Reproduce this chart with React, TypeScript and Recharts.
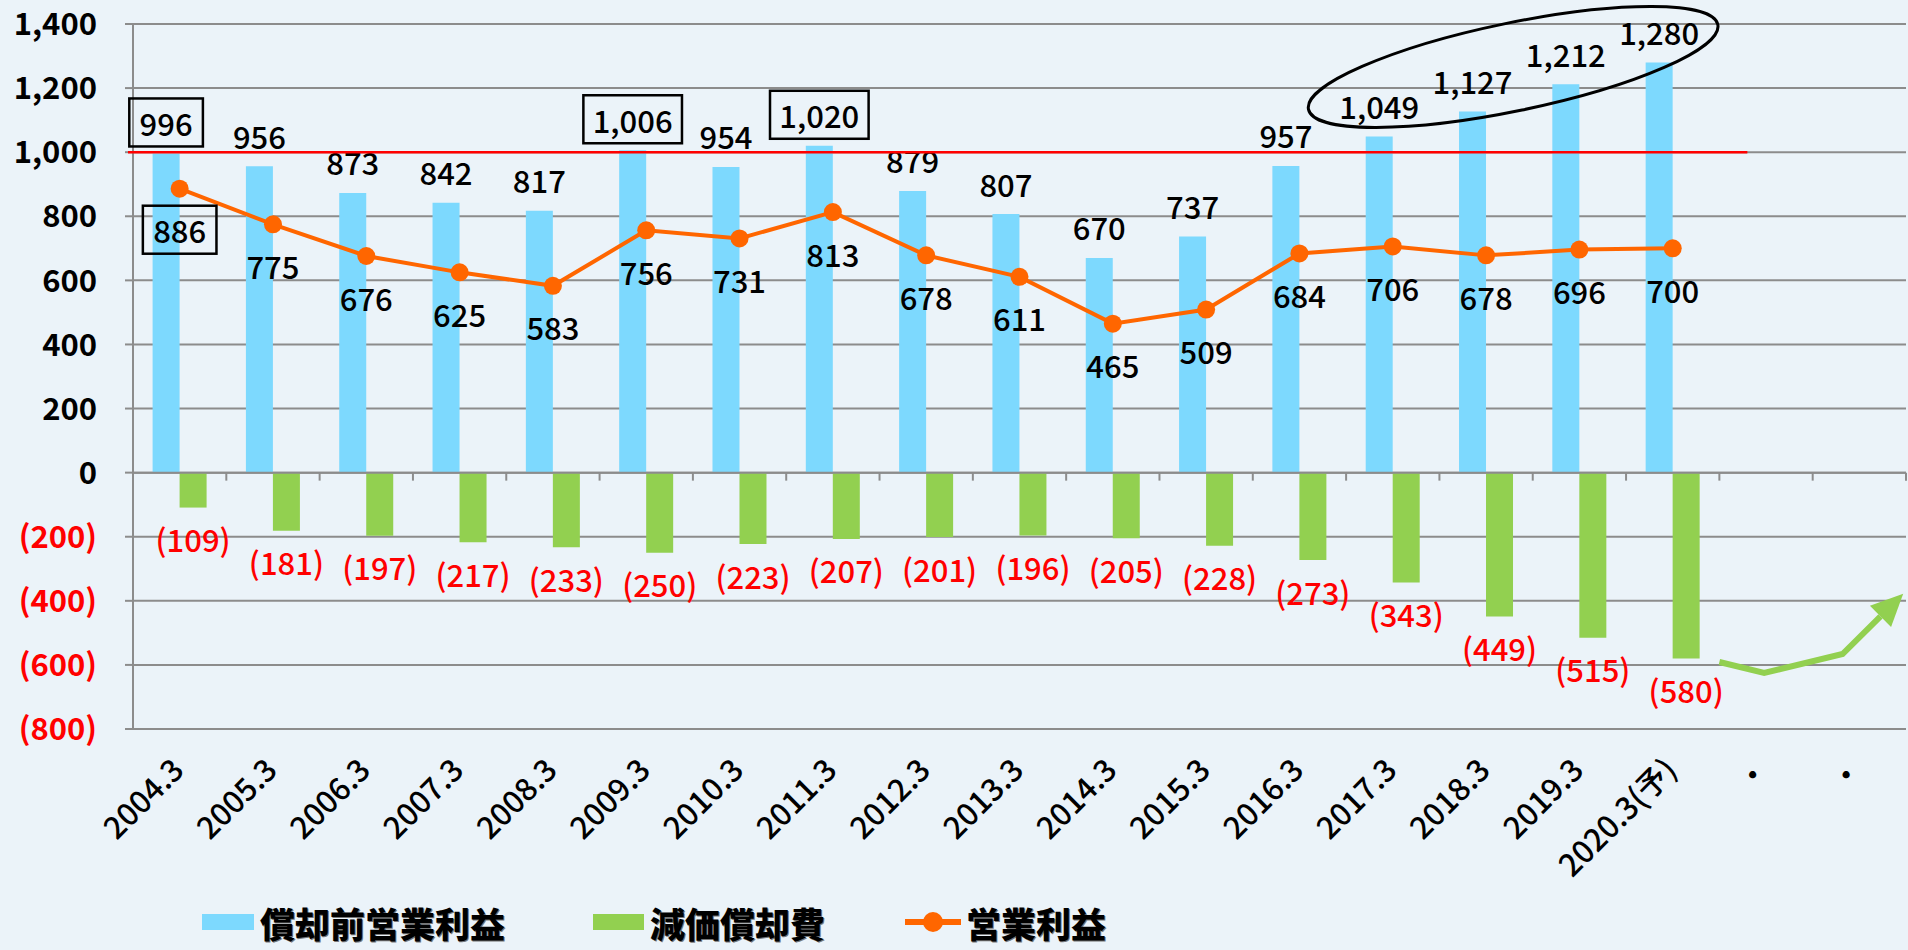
import React from "react";
import {
  ComposedChart,
  Bar,
  Line,
  XAxis,
  YAxis,
  CartesianGrid,
  LabelList,
  Legend,
  ReferenceArea,
} from "recharts";

const categories = [
  "2004.3", "2005.3", "2006.3", "2007.3", "2008.3", "2009.3", "2010.3",
  "2011.3", "2012.3", "2013.3", "2014.3", "2015.3", "2016.3", "2017.3",
  "2018.3", "2019.3", "2020.3(予)", "・", "・",
];
// 償却前営業利益
const ebitda = [996, 956, 873, 842, 817, 1006, 954, 1020, 879, 807, 670, 737, 957, 1049, 1127, 1212, 1280, null, null];
// 減価償却費
const depreciation = [-109, -181, -197, -217, -233, -250, -223, -207, -201, -196, -205, -228, -273, -343, -449, -515, -580, null, null];
// 営業利益
const operatingProfit = [886, 775, 676, 625, 583, 756, 731, 813, 678, 611, 465, 509, 684, 706, 678, 696, 700, null, null];

const yTicks = [-800, -600, -400, -200, 0, 200, 400, 600, 800, 1000, 1200, 1400];
const yMin = -800;
const yMax = 1400;
const targetLine = 1000;

// labels drawn inside a box
const boxedEbitda = ["2004.3", "2009.3", "2011.3"];
const boxedProfit = ["2004.3"];

// annotations, in (category units, value)
const ellipseCenter = [14.79, 1266];
const trendArrow = [
  [17.0, -591],
  [17.48, -625],
  [18.32, -566],
  [18.97, -378],
];

const data = categories.map((name, i) => ({
  name,
  ebitda: ebitda[i],
  dep: depreciation[i],
  op: operatingProfit[i],
}));

const FONT = '"Noto Sans CJK JP", "Noto Sans", sans-serif';
const BLUE = "#7DD9FE";
const GREEN = "#92D050";
const ORANGE = "#FF6600";
const RED = "#FF0000";
const GRID = "#8C8C8C";
const BG = "#EBF3F9";
const LABEL_SIZE = 31;

const fmt = (v: number) => v.toLocaleString("en-US");

const textWidth = (s: string) =>
  s.split("").reduce((w, c) => w + (c === "," ? 7.8 : 17.2), 0);

const box = (cx: number, cy: number, s: string) => (
  <rect
    x={cx - (textWidth(s) + 22) / 2}
    y={cy - 24}
    width={textWidth(s) + 22}
    height={48}
    fill="none"
    stroke="#000"
    strokeWidth={2.5}
  />
);

const geom = (props: any) => {
  const vb = props.viewBox || {};
  const x = vb.x ?? props.x;
  const y = vb.y ?? props.y;
  const w = vb.width ?? props.width ?? 0;
  const h = vb.height ?? props.height ?? 0;
  return { x, y, w, h };
};

const EbitdaLabel = (props: any) => {
  const { value, index } = props;
  if (value == null) return null;
  const { x, y, w, h } = geom(props);
  const cx = x + w / 2;
  const cy = Math.min(y, y + h) - 31;
  const s = fmt(value);
  return (
    <g>
      {boxedEbitda.includes(categories[index]) && box(cx, cy, s)}
      <text x={cx} y={cy} textAnchor="middle" dominantBaseline="central" fontSize={LABEL_SIZE} fontFamily={FONT} fontWeight={500} fill="#000">
        {s}
      </text>
    </g>
  );
};

const DepLabel = (props: any) => {
  const { value } = props;
  if (value == null) return null;
  const { x, y, w, h } = geom(props);
  const cx = x + w / 2;
  const cy = Math.max(y, y + h) + 31;
  return (
    <text x={cx} y={cy} textAnchor="middle" dominantBaseline="central" fontSize={LABEL_SIZE} fontFamily={FONT} fontWeight={500} fill={RED}>
      {`(${Math.abs(value)})`}
    </text>
  );
};

const ProfitLabel = (props: any) => {
  const { value, index } = props;
  if (value == null) return null;
  const { x, y } = geom(props);
  const cy = y + 41;
  const s = fmt(value);
  return (
    <g>
      {boxedProfit.includes(categories[index]) && box(x, cy, s)}
      <text x={x} y={cy} textAnchor="middle" dominantBaseline="central" fontSize={LABEL_SIZE} fontFamily={FONT} fontWeight={500} fill="#000">
        {s}
      </text>
    </g>
  );
};

const YTick = (props: any) => {
  const { x, y, payload } = props;
  const v = payload.value as number;
  const neg = v < 0;
  return (
    <text x={x} y={y} dy="0.36em" textAnchor="end" fontSize={31} fontFamily={FONT} fontWeight={700} fill={neg ? RED : "#000"}>
      {neg ? `(${Math.abs(v)})` : fmt(v)}
    </text>
  );
};

const XTick = (props: any) => {
  const { x, y, payload } = props;
  return (
    <g transform={`translate(${x},${y})`}>
      <text x={6} y={43} textAnchor="end" transform="rotate(-45 6 43)" fontSize={31} fontFamily={FONT} fontWeight={500} fill="#000">
        {payload.value}
      </text>
    </g>
  );
};

// draws zero axis, 1,000 line, ellipse and trend arrow over the whole plot area
const Annotations = (props: any) => {
  const { x, y, width, height } = props;
  const catW = width / categories.length;
  const px = (c: number) => x + c * catW;
  const py = (v: number) => y + ((yMax - v) / (yMax - yMin)) * height;
  const zy = py(0);

  const pts = trendArrow.map(([c, v]) => [px(c), py(v)]);
  const tip = pts[pts.length - 1];
  const prev = pts[pts.length - 2];
  const len = Math.hypot(tip[0] - prev[0], tip[1] - prev[1]);
  const dx = (tip[0] - prev[0]) / len;
  const dy = (tip[1] - prev[1]) / len;
  const base = [tip[0] - dx * 32, tip[1] - dy * 32];
  const nx = -dy;
  const ny = dx;
  const line = [...pts.slice(0, -1), base].map((p) => p.join(",")).join(" ");
  const head = [
    tip,
    [base[0] + nx * 15, base[1] + ny * 15],
    [base[0] - nx * 15, base[1] - ny * 15],
  ]
    .map((p) => p.join(","))
    .join(" ");

  const ecx = px(ellipseCenter[0]);
  const ecy = py(ellipseCenter[1]);

  return (
    <g>
      <line x1={x} y1={zy} x2={x + width} y2={zy} stroke={GRID} strokeWidth={2} />
      {categories.map((_, i) => (
        <line key={i} x1={px(i + 1)} y1={zy} x2={px(i + 1)} y2={zy + 8} stroke={GRID} strokeWidth={2} />
      ))}
      <line x1={x - 5} y1={py(targetLine)} x2={px(17.3)} y2={py(targetLine)} stroke={RED} strokeWidth={2.5} />
      <ellipse
        cx={ecx}
        cy={ecy}
        rx={209}
        ry={44}
        transform={`rotate(-11.7 ${ecx} ${ecy})`}
        fill="none"
        stroke="#000"
        strokeWidth={3}
      />
      <polyline points={line} fill="none" stroke={GREEN} strokeWidth={6} strokeLinejoin="miter" />
      <polygon points={head} fill={GREEN} />
    </g>
  );
};

const LegendContent = () => {
  const label: React.CSSProperties = {
    fontFamily: FONT,
    fontSize: 35,
    fontWeight: 900,
    color: "#000",
    textShadow: "1px 1px 0 #777",
    lineHeight: "35px",
    whiteSpace: "nowrap",
  };
  return (
    <div
      style={{
        display: "flex",
        alignItems: "center",
        height: 50,
        paddingBottom: 6,
        paddingLeft: 202,
        boxSizing: "border-box",
      }}
    >
      <span style={{ width: 52, height: 16, background: BLUE, marginRight: 6 }} />
      <span style={{ ...label, marginRight: 88 }}>償却前営業利益</span>
      <span style={{ width: 51, height: 16, background: GREEN, marginRight: 6 }} />
      <span style={{ ...label, marginRight: 80 }}>減価償却費</span>
      <svg width={56} height={24} style={{ marginRight: 5 }}>
        <line x1={0} y1={12} x2={56} y2={12} stroke={ORANGE} strokeWidth={6} />
        <circle cx={28} cy={12} r={10} fill={ORANGE} />
      </svg>
      <span style={label}>営業利益</span>
    </div>
  );
};

export default function App() {
  return (
    <div style={{ position: "fixed", left: 0, top: 0, width: 1908, height: 950, background: BG }}>
      <ComposedChart
        width={1908}
        height={950}
        data={data}
        margin={{ top: 24, right: 2, left: 0, bottom: 0 }}
        barCategoryGap="21%"
        barGap={0}
      >
        <CartesianGrid horizontal vertical={false} stroke={GRID} strokeWidth={2} />
        <XAxis
          dataKey="name"
          height={171}
          interval={0}
          axisLine={false}
          tickLine={false}
          tickSize={0}
          tickMargin={0}
          tick={<XTick />}
        />
        <YAxis
          width={133}
          domain={[yMin, yMax]}
          ticks={yTicks}
          interval={0}
          axisLine={{ stroke: GRID, strokeWidth: 2 }}
          tickLine={{ stroke: GRID, strokeWidth: 2 }}
          tickSize={8}
          tickMargin={28}
          tick={<YTick />}
        />
        <Legend
          verticalAlign="bottom"
          align="left"
          wrapperStyle={{ left: 0, width: 1908, height: 50 }}
          content={<LegendContent />}
        />
        <Bar dataKey="ebitda" name="償却前営業利益" fill={BLUE} isAnimationActive={false}>
          <LabelList dataKey="ebitda" content={<EbitdaLabel />} />
        </Bar>
        <Bar dataKey="dep" name="減価償却費" fill={GREEN} isAnimationActive={false}>
          <LabelList dataKey="dep" content={<DepLabel />} />
        </Bar>
        <Line
          dataKey="op"
          name="営業利益"
          stroke={ORANGE}
          strokeWidth={4}
          dot={{ r: 9, fill: ORANGE, stroke: "none" }}
          activeDot={false}
          isAnimationActive={false}
        >
          <LabelList dataKey="op" content={<ProfitLabel />} />
        </Line>
        <ReferenceArea
          y1={yMin}
          y2={yMax}
          fill="none"
          stroke="none"
          shape={<Annotations />}
          zIndex={2500}
        />
      </ComposedChart>
    </div>
  );
}
